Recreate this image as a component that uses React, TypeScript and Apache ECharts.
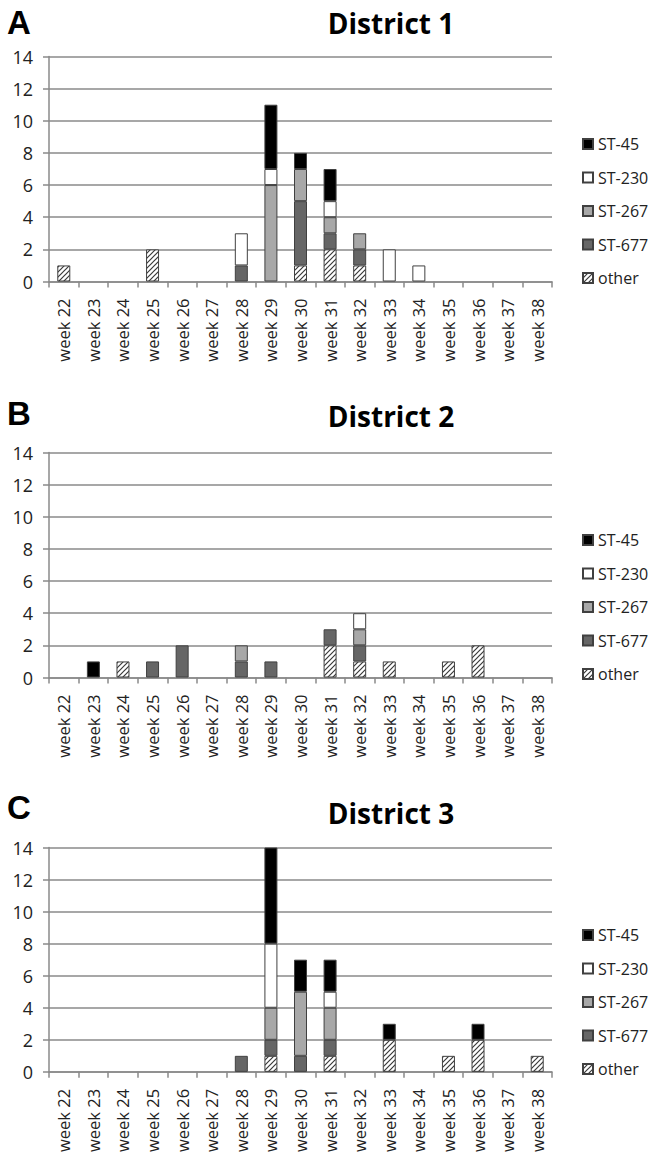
import React, { useEffect, useRef } from 'react';
import * as echarts from 'echarts';

const weeks = ['week 22', 'week 23', 'week 24', 'week 25', 'week 26', 'week 27', 'week 28', 'week 29', 'week 30', 'week 31', 'week 32', 'week 33', 'week 34', 'week 35', 'week 36', 'week 37', 'week 38'];
const legendOrder = ['ST-45', 'ST-230', 'ST-267', 'ST-677', 'other'];
const stackOrder = ['other', 'ST-677', 'ST-267', 'ST-230', 'ST-45'];
const yTicks = [0, 2, 4, 6, 8, 10, 12, 14];

// District 1 (A)
const d1Other = [1, 0, 0, 2, 0, 0, 0, 0, 1, 2, 1, 0, 0, 0, 0, 0, 0];
const d1ST677 = [0, 0, 0, 0, 0, 0, 1, 0, 4, 1, 1, 0, 0, 0, 0, 0, 0];
const d1ST267 = [0, 0, 0, 0, 0, 0, 0, 6, 2, 1, 1, 0, 0, 0, 0, 0, 0];
const d1ST230 = [0, 0, 0, 0, 0, 0, 2, 1, 0, 1, 0, 2, 1, 0, 0, 0, 0];
const d1ST45 = [0, 0, 0, 0, 0, 0, 0, 4, 1, 2, 0, 0, 0, 0, 0, 0, 0];

// District 2 (B)
const d2Other = [0, 0, 1, 0, 0, 0, 0, 0, 0, 2, 1, 1, 0, 1, 2, 0, 0];
const d2ST677 = [0, 0, 0, 1, 2, 0, 1, 1, 0, 1, 1, 0, 0, 0, 0, 0, 0];
const d2ST267 = [0, 0, 0, 0, 0, 0, 1, 0, 0, 0, 1, 0, 0, 0, 0, 0, 0];
const d2ST230 = [0, 0, 0, 0, 0, 0, 0, 0, 0, 0, 1, 0, 0, 0, 0, 0, 0];
const d2ST45 = [0, 1, 0, 0, 0, 0, 0, 0, 0, 0, 0, 0, 0, 0, 0, 0, 0];

// District 3 (C)
const d3Other = [0, 0, 0, 0, 0, 0, 0, 1, 0, 1, 0, 2, 0, 1, 2, 0, 1];
const d3ST677 = [0, 0, 0, 0, 0, 0, 1, 1, 1, 1, 0, 0, 0, 0, 0, 0, 0];
const d3ST267 = [0, 0, 0, 0, 0, 0, 0, 2, 4, 2, 0, 0, 0, 0, 0, 0, 0];
const d3ST230 = [0, 0, 0, 0, 0, 0, 0, 4, 0, 1, 0, 0, 0, 0, 0, 0, 0];
const d3ST45 = [0, 0, 0, 0, 0, 0, 0, 6, 2, 2, 0, 1, 0, 0, 1, 0, 0];

const districts = [
  { letter: 'A', title: 'District 1', data: { 'other': d1Other, 'ST-677': d1ST677, 'ST-267': d1ST267, 'ST-230': d1ST230, 'ST-45': d1ST45 } },
  { letter: 'B', title: 'District 2', data: { 'other': d2Other, 'ST-677': d2ST677, 'ST-267': d2ST267, 'ST-230': d2ST230, 'ST-45': d2ST45 } },
  { letter: 'C', title: 'District 3', data: { 'other': d3Other, 'ST-677': d3ST677, 'ST-267': d3ST267, 'ST-230': d3ST230, 'ST-45': d3ST45 } },
];

const FONT = '"Open Sans", "Noto Sans", sans-serif';

function makeHatch() {
  const c = document.createElement('canvas');
  const s = 5;
  c.width = s;
  c.height = s;
  const ctx = c.getContext('2d')!;
  ctx.fillStyle = '#ffffff';
  ctx.fillRect(0, 0, s, s);
  ctx.strokeStyle = '#3a3a3a';
  ctx.lineWidth = 1.2;
  ctx.beginPath();
  ctx.moveTo(-1, s + 1);
  ctx.lineTo(s + 1, -1);
  ctx.moveTo(-1, 1);
  ctx.lineTo(1, -1);
  ctx.moveTo(s - 1, s + 1);
  ctx.lineTo(s + 1, s - 1);
  ctx.stroke();
  return c;
}

export default function App() {
  const ref = useRef<HTMLDivElement>(null);
  useEffect(() => {
    document.body.style.margin = '0';
    const chart = echarts.init(ref.current!, null, { renderer: 'svg' });
    const hatch = makeHatch();
    const colors: Record<string, any> = {
      'ST-45': '#000000',
      'ST-230': '#ffffff',
      'ST-267': '#a8a8a8',
      'ST-677': '#666666',
      'other': { image: hatch, repeat: 'repeat', imageWidth: 5, imageHeight: 5 },
    };
    const gridTops = [56.5, 452.5, 847.5];
    const gridH = 225;
    const titleYs = [23, 416, 813];
    const letterYs = [22, 413, 807];

    const grids = gridTops.map((t) => ({ left: 49, width: 503, top: t, height: gridH }));
    const xAxes = gridTops.map((_, i) => ({
      type: 'category',
      gridIndex: i,
      data: weeks,
      boundaryGap: true,
      axisLine: { show: true, lineStyle: { color: '#8a8a8a', width: 1.5 } },
      axisTick: { show: true, length: 6, lineStyle: { color: '#8a8a8a', width: 1.5 } },
      axisLabel: { rotate: 90, fontSize: 16.5, fontFamily: FONT, color: '#222', margin: 17, interval: 0 },
    }));
    const yAxes = gridTops.map((_, i) => ({
      type: 'value',
      gridIndex: i,
      min: yTicks[0],
      max: yTicks[yTicks.length - 1],
      interval: yTicks[1] - yTicks[0],
      axisLine: { show: true, lineStyle: { color: '#8a8a8a', width: 1.5 } },
      axisTick: { show: true, length: 6, lineStyle: { color: '#8a8a8a', width: 1.5 } },
      axisLabel: { fontSize: 18, fontFamily: FONT, color: '#222', margin: 16 },
      splitLine: { show: true, lineStyle: { color: '#8a8a8a', width: 1.5 } },
    }));
    const series: any[] = [];
    districts.forEach((d, i) => {
      stackOrder.forEach((name) => {
        series.push({
          type: 'bar',
          name,
          xAxisIndex: i,
          yAxisIndex: i,
          stack: 'd' + i,
          barWidth: 13,
          data: (d.data as any)[name].map((v: number) => (v === 0 ? null : v)),
          itemStyle: { color: colors[name], borderColor: '#404040', borderWidth: 1 },
        });
      });
    });
    const legendTops = [136, 532, 927];
    const legends = legendTops.map((t) => ({
      orient: 'vertical',
      left: 582,
      top: t,
      padding: 0,
      itemWidth: 10,
      itemHeight: 10,
      itemGap: 17.5,
      icon: 'rect',
      selectedMode: false,
      data: legendOrder,
      textStyle: { fontSize: 16, fontFamily: FONT, color: '#222' },
    }));
    const graphics: any[] = [];
    districts.forEach((d, i) => {
      graphics.push({
        type: 'text',
        x: 7,
        y: letterYs[i],
        style: { text: d.letter, font: 'bold 33px "Liberation Sans", Arial, sans-serif', fill: '#000', verticalAlign: 'middle', align: 'left' },
      });
      graphics.push({
        type: 'text',
        x: 391,
        y: titleYs[i],
        style: { text: d.title, font: 'bold 28px ' + FONT, fill: '#000', verticalAlign: 'middle', align: 'center' },
      });
    });
    chart.setOption({
      animation: false,
      backgroundColor: '#ffffff',
      grid: grids,
      xAxis: xAxes,
      yAxis: yAxes,
      legend: legends,
      series,
      graphic: graphics,
    });
    return () => chart.dispose();
  }, []);
  return <div ref={ref} style={{ width: 652, height: 1155 }} />;
}
